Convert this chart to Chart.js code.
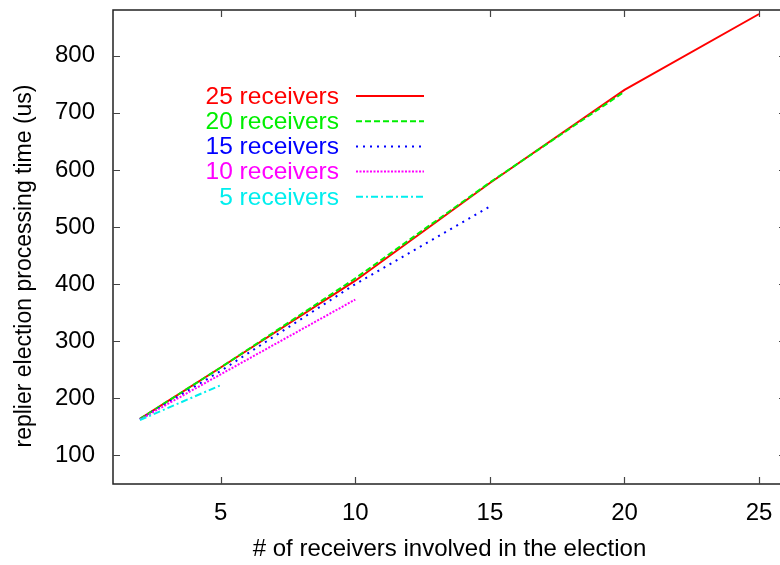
<!DOCTYPE html>
<html>
<head>
<meta charset="utf-8">
<script src="https://cdn.jsdelivr.net/npm/chart.js@4/dist/chart.umd.min.js"></script>
<style>
html,body{margin:0;padding:0;background:#fff;}
#wrap{width:780px;height:565px;overflow:hidden;position:relative;}
canvas{display:block;}
</style>
</head>
<body>
<div id="wrap"><canvas id="c" width="790" height="565" style="width:790px;height:565px"></canvas></div>
<script>
// ---- data ----
const seriesLabels = ['25 receivers', '20 receivers', '15 receivers', '10 receivers', '5 receivers'];
const x25 = [2, 5, 10, 15, 20, 25];
const y25 = [164, 254, 406, 577, 740, 873];
const x20 = [2, 5, 10, 15, 20];
const y20 = [164, 254, 410, 578, 737];
const x15 = [2, 5, 10, 15];
const y15 = [163, 248, 400, 536];
const x10 = [2, 5, 10];
const y10 = [163, 242, 373];
const x5 = [2, 5];
const y5 = [162, 223];
const xTicks = [5, 10, 15, 20, 25];
const yTicks = [100, 200, 300, 400, 500, 600, 700, 800];
const xTitle = '# of receivers involved in the election';
const yTitle = 'replier election processing time (us)';

const colors = ['#ff0000', '#00ee00', '#0000ff', '#ff00ff', '#00eeee'];
const dashes = [[], [6, 3], [2, 5], [2, 1.5], [7, 3, 2, 3]];
const FONT = "'Liberation Sans', Arial, Helvetica, sans-serif";

function pts(xs, ys) { return xs.map((x, i) => ({x: x, y: ys[i]})); }
const allData = [pts(x25, y25), pts(x20, y20), pts(x15, y15), pts(x10, y10), pts(x5, y5)];

const datasets = allData.map((d, i) => ({
  label: seriesLabels[i],
  data: d,
  borderColor: colors[i],
  backgroundColor: colors[i],
  borderWidth: 2,
  borderDash: dashes[i],
  pointRadius: 0,
  tension: 0,
  fill: false,
  order: 5 - i
}));

const framePlugin = {
  id: 'frame',
  afterDatasetsDraw(chart) {
    const {ctx, chartArea: a, scales} = chart;
    ctx.save();
    ctx.strokeStyle = '#222';
    ctx.lineWidth = 1.5;
    ctx.strokeRect(a.left, a.top, a.right - a.left, a.bottom - a.top);
    ctx.lineWidth = 1.2;
    ctx.strokeStyle = '#444';
    const tl = 7;
    scales.x.ticks.forEach(t => {
      const px = Math.round(scales.x.getPixelForValue(t.value)) + 0.5;
      ctx.beginPath();
      ctx.moveTo(px, a.bottom); ctx.lineTo(px, a.bottom - tl);
      ctx.moveTo(px, a.top); ctx.lineTo(px, a.top + tl);
      ctx.stroke();
    });
    scales.y.ticks.forEach(t => {
      const py = Math.round(scales.y.getPixelForValue(t.value)) + 0.5;
      ctx.beginPath();
      ctx.moveTo(a.left, py); ctx.lineTo(a.left + tl, py);
      ctx.moveTo(a.right, py); ctx.lineTo(a.right - tl, py);
      ctx.stroke();
    });
    // y axis title
    ctx.fillStyle = '#000';
    ctx.font = '23px ' + FONT;
    ctx.textAlign = 'center';
    ctx.textBaseline = 'middle';
    ctx.translate(25, 266);
    ctx.rotate(-Math.PI / 2);
    ctx.fillText(yTitle, 0, 0);
    ctx.restore();

    // legend
    ctx.save();
    ctx.font = '24.5px ' + FONT;
    ctx.textAlign = 'right';
    ctx.textBaseline = 'middle';
    chart.data.datasets.forEach((ds, i) => {
      const y = 96 + i * 25.2;
      ctx.fillStyle = ds.borderColor;
      ctx.fillText(ds.label, 339, y + 1);
      ctx.strokeStyle = ds.borderColor;
      ctx.lineWidth = 2;
      ctx.setLineDash(ds.borderDash);
      ctx.beginPath();
      ctx.moveTo(356, y); ctx.lineTo(424, y);
      ctx.stroke();
    });
    ctx.restore();
  }
};

new Chart(document.getElementById('c'), {
  type: 'line',
  data: {datasets: datasets},
  options: {
    responsive: false,
    animation: false,
    devicePixelRatio: 1,
    layout: {padding: {top: 10, right: 4, left: 0, bottom: 0}},
    plugins: {legend: {display: false}, tooltip: {enabled: false}},
    scales: {
      x: {
        type: 'linear',
        min: 1, max: 26,
        grid: {display: false, drawTicks: false},
        border: {display: false},
        afterBuildTicks: s => { s.ticks = xTicks.map(v => ({value: v})); },
        afterFit: s => { s.height = 81; s.paddingLeft = 0; s.paddingRight = 0; },
        ticks: {color: '#000', font: {family: FONT, size: 24}, padding: 15, maxRotation: 0},
        title: {display: true, text: xTitle, color: '#000', font: {family: FONT, size: 24}, padding: {top: 0, bottom: 1}}
      },
      y: {
        type: 'linear',
        min: 50, max: 880,
        grid: {display: false, drawTicks: false},
        border: {display: false},
        afterBuildTicks: s => { s.ticks = yTicks.map(v => ({value: v})); },
        afterFit: s => { s.width = 113; s.paddingTop = 0; s.paddingBottom = 0; },
        ticks: {color: '#000', font: {family: FONT, size: 24}, padding: 18},
        title: {display: false}
      }
    }
  },
  plugins: [framePlugin]
});
</script>
</body>
</html>
